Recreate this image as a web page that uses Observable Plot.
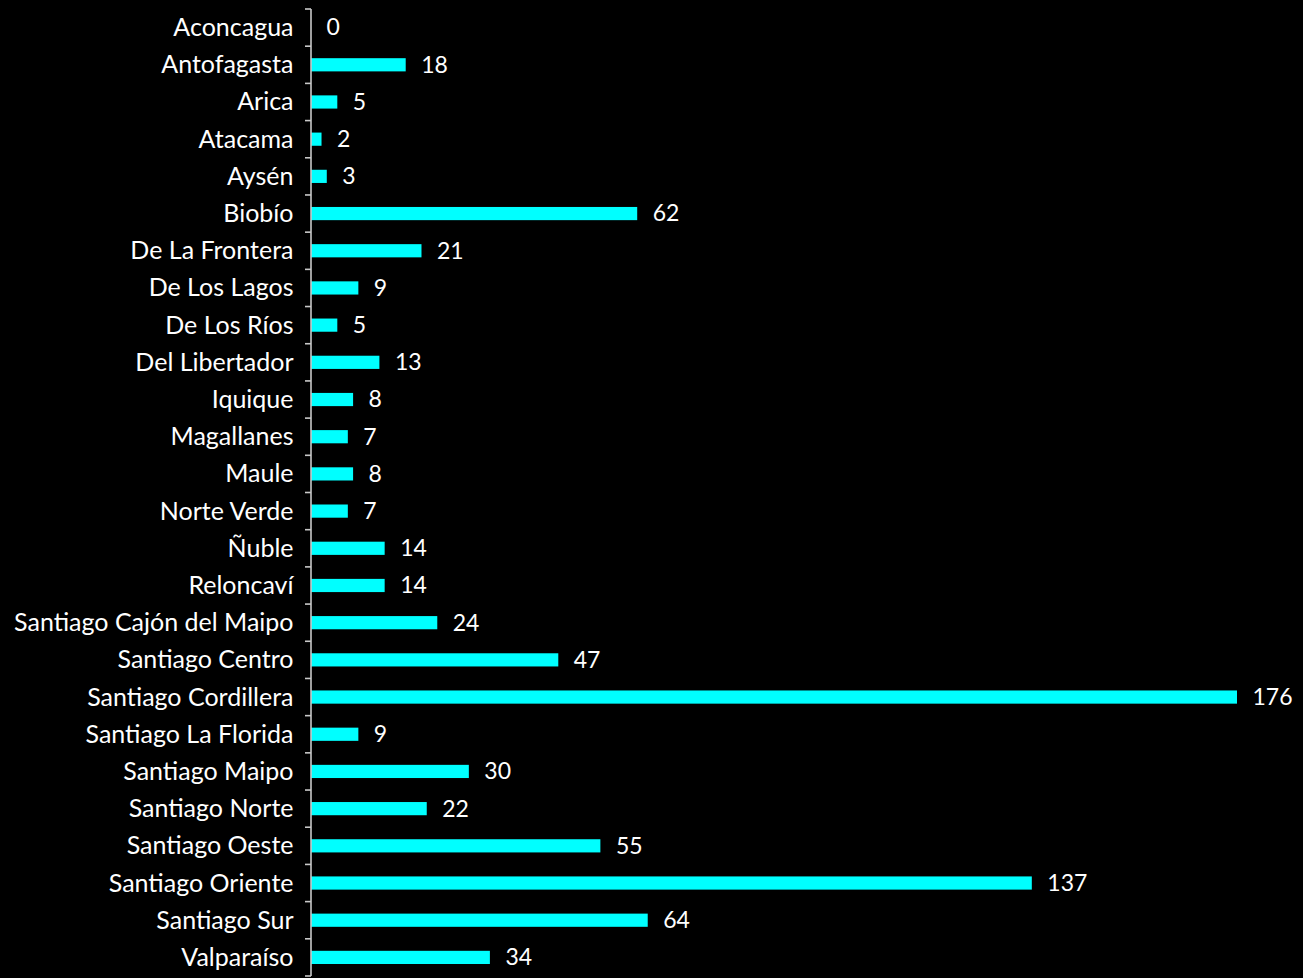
<!DOCTYPE html>
<html>
<head>
<meta charset="utf-8">
<script src="https://cdn.jsdelivr.net/npm/d3@7"></script>
<script src="https://cdn.jsdelivr.net/npm/@observablehq/plot@0.6"></script>
<style>
  html, body { margin: 0; padding: 0; background: #000; }
  #chart { width: 1303px; height: 978px; }
</style>
</head>
<body>
<div id="chart"></div>
<script>
const regions = ["Aconcagua","Antofagasta","Arica","Atacama","Aysén","Biobío","De La Frontera","De Los Lagos","De Los Ríos","Del Libertador","Iquique","Magallanes","Maule","Norte Verde","Ñuble","Reloncaví","Santiago Cajón del Maipo","Santiago Centro","Santiago Cordillera","Santiago La Florida","Santiago Maipo","Santiago Norte","Santiago Oeste","Santiago Oriente","Santiago Sur","Valparaíso"];
const counts = [0,18,5,2,3,62,21,9,5,13,8,7,8,7,14,14,24,47,176,9,30,22,55,137,64,34];

const data = regions.map((r, i) => ({region: r, value: counts[i]}));

// axis line with ticks at band boundaries, drawn from the library's scales
function bracketAxis(index, scales, values, dimensions) {
  const y = scales.y, x = scales.x;
  const bw = y.bandwidth();
  const x0 = x(0);
  const edges = regions.map(r => y(r)).concat([y(regions[regions.length - 1]) + bw]);
  const g = d3.create("svg:g").attr("stroke", "#c8c8c8").attr("stroke-width", 1.6).attr("fill", "none");
  g.append("line").attr("x1", x0).attr("x2", x0).attr("y1", edges[0]).attr("y2", edges[edges.length - 1]);
  for (const e of edges) g.append("line").attr("x1", x0 - 6).attr("x2", x0).attr("y1", e).attr("y2", e);
  return g.node();
}

const chart = Plot.plot({
  width: 1303,
  height: 978,
  marginLeft: 311,
  marginRight: 66,
  marginTop: 9,
  marginBottom: 2,
  style: {background: "#000", color: "#fff", fontFamily: "Lato, sans-serif", fontSize: "25px"},
  x: {domain: [0, 176], axis: null},
  y: {domain: regions, padding: 0, round: false, label: null},
  marks: [
    Plot.barX(data, {y: "region", x: "value", fill: "#00ffff", insetTop: 12, insetBottom: 12}),
    Plot.text(data, {y: "region", x: "value", text: d => String(d.value), textAnchor: "start", dx: 15, fill: "#fff", fontSize: 23}),
    Plot.axisY({tickSize: 0, tickPadding: 18, fontSize: 25, fill: "#fff", label: null}),
    bracketAxis
  ]
});
document.getElementById("chart").appendChild(chart);
</script>
</body>
</html>
